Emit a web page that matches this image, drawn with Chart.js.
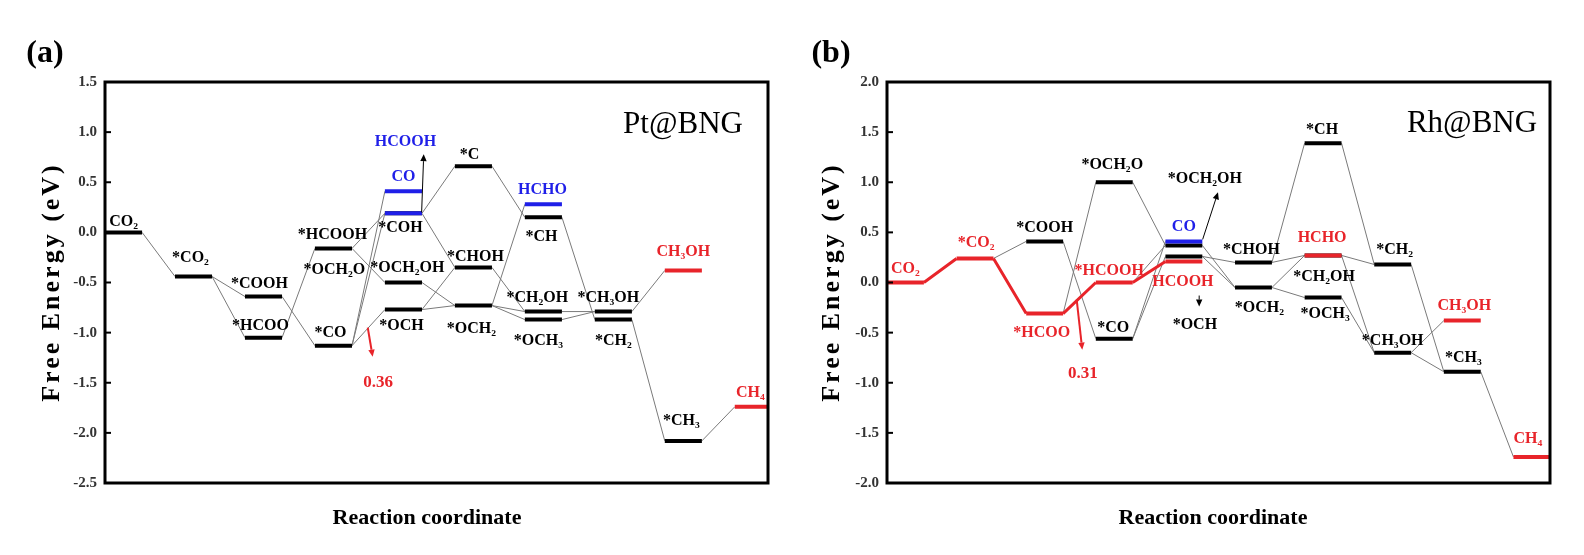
<!DOCTYPE html>
<html><head><meta charset="utf-8">
<script src="https://cdn.jsdelivr.net/npm/chart.js@4.4.1/dist/chart.umd.min.js"></script>
<style>
html,body{margin:0;padding:0;background:#fff;}
#wrap{position:relative;width:1584px;height:555px;overflow:hidden;}
.pane{position:absolute;top:0;width:792px;height:555px;}
</style></head><body>
<div id="wrap">
<div class="pane" style="left:0"><canvas id="ca" width="792" height="555"></canvas></div>
<div class="pane" style="left:792px"><canvas id="cb" width="792" height="555"></canvas></div>
</div>
<script>
// ================= DATA: panel (a) Pt@BNG =================
const stepA   = [0, 1, 2, 2, 3, 3, 3, 4, 4, 4, 4, 4, 5, 5, 5, 6, 6, 6, 6, 7, 7, 8, 8, 9];
const energyA = [0.00,-0.44,-0.64,-1.05,-0.16,-0.16,-1.13,0.41,0.19,0.19,-0.50,-0.77,0.66,-0.35,-0.73,0.28,0.15,-0.79,-0.87,-0.79,-0.87,-0.38,-2.08,-1.74];
const kindA   = ['k','k','k','k','k','k','k','b','b','k','k','k','k','k','k','b','k','k','k','k','k','r','k','r'];
const labelA  = ['CO₂','*CO₂','*COOH','*HCOO','*HCOOH','*OCH₂O','*CO','CO','HCOOH','*COH','*OCH₂OH','*OCH','*C','*CHOH','*OCH₂','HCHO','*CH','*CH₂OH','*OCH₃','*CH₃OH','*CH₂','CH₃OH','*CH₃','CH₄'];
const linksA  = [[0,1],[1,2],[1,3],[2,6],[3,4],[4,8],[5,10],[6,7],[6,9],[6,11],[9,12],[9,13],[10,14],[11,13],[11,14],[12,16],[13,17],[14,15],[14,18],[14,17],[16,20],[17,19],[18,19],[19,21],[20,22],[22,23]];
const redLinksA = [];
const yTicksA = ['-2.5','-2.0','-1.5','-1.0','-0.5','0.0','0.5','1.0','1.5'];
const barrierA = ['0.36'];

// ================= DATA: panel (b) Rh@BNG =================
const stepB   = [0, 1, 2, 2, 3, 3, 3, 4, 4, 4, 4, 5, 5, 6, 6, 6, 6, 7, 7, 8, 8, 9];
const energyB = [0.00,0.24,0.41,-0.31,1.00,0.00,-0.56,0.41,0.37,0.26,0.21,0.20,-0.05,1.39,0.27,0.27,-0.15,0.18,-0.70,-0.38,-0.89,-1.74];
const kindB   = ['r','r','k','r','k','r','k','b','k','k','r','k','k','k','r','k','k','k','k','r','k','r'];
const labelB  = ['CO₂','*CO₂','*COOH','*HCOO','*OCH₂O','*HCOOH','*CO','CO','*OCH₂OH','*OCH','HCOOH','*CHOH','*OCH₂','*CH','HCHO','*CH₂OH','*OCH₃','*CH₂','*CH₃OH','CH₃OH','*CH₃','CH₄'];
const linksB  = [[1,2],[2,6],[3,4],[4,8],[5,8],[6,7],[6,9],[8,12],[9,11],[9,12],[11,13],[11,15],[12,14],[12,16],[13,17],[15,17],[15,18],[16,18],[17,20],[18,19],[18,20],[20,21]];
const redLinksB = [[0,1],[1,3],[3,5],[5,10]];
const yTicksB = ['-2.0','-1.5','-1.0','-0.5','0.0','0.5','1.0','1.5','2.0'];
const barrierB = ['0.31'];

// ================= LAYOUT (positions / styles) =================
const HW = 0.265;   // half width of an energy level, in step units
const SERIF = '"Liberation Serif","Times New Roman",serif';
const COLORS = {k:'#000000', b:'#1f1fe8', r:'#e8242a'};
// label offsets in px relative to level centre
const labelOffA = [[0,-6],[-3,-14],[-4,-9],[-3,-8],[-1,-9],[1,26],[-3,-9],[0,-10],[2,-67],[-3,19],[4,-11],[-2,20],[-4,-7],[2,-6],[-2,27],[-1,-10],[-2,24],[-6,-10],[-5,25],[-5,-10],[0,25],[0,-14],[-2,-16],[-3,-10]];
const labelOffB = [[0,-10],[1,-11],[0,-9],[-3,23],[-2,-13],[-5,-8],[-1,-7],[0,-10],[21,-62],[11,73],[-1,25],[-2,-8],[6,24],[-1,-9],[-1,-13],[1,26],[2,20],[2,-10],[0,-8],[2,-11],[1,-10],[-4,-14]];
// annotation arrows in data space
const arrowsA = [{from:[4.26,0.20],to:[4.29,0.78],kind:'k',w:1},{from:[3.49,-0.95],to:[3.56,-1.24],kind:'r',w:2}];
const notePosA = [[3.64,-1.54]];
const arrowsB = [{from:[4.27,0.43],to:[4.49,0.90],kind:'k',w:1},{from:[4.22,-0.13],to:[4.22,-0.24],kind:'k',w:1},{from:[2.46,-0.17],to:[2.54,-0.67],kind:'r',w:2}];
const notePosB = [[2.55,-0.95]];

function levelData(steps, energies, kinds, kind){
  const pts = [];
  steps.forEach((s,i)=>{
    if (kinds[i] !== kind) return;
    pts.push({x:s-HW,y:energies[i]},{x:s+HW,y:energies[i]},{x:s+HW,y:null});
  });
  return pts;
}
function linkData(steps, energies, links){
  const pts = [];
  links.forEach(([i,j])=>{
    pts.push({x:steps[i]+HW,y:energies[i]},{x:steps[j]-HW,y:energies[j]},{x:steps[j]-HW,y:null});
  });
  return pts;
}

function drawArrow(ctx, x1,y1,x2,y2,color,w){
  ctx.save();
  ctx.strokeStyle=color; ctx.fillStyle=color; ctx.lineWidth=w;
  const ang=Math.atan2(y2-y1,x2-x1), hl=7, hw=3.2;
  const bx=x2-hl*Math.cos(ang), by=y2-hl*Math.sin(ang);
  ctx.beginPath(); ctx.moveTo(x1,y1); ctx.lineTo(bx,by); ctx.stroke();
  ctx.beginPath(); ctx.moveTo(x2,y2);
  ctx.lineTo(bx+hw*Math.sin(ang), by-hw*Math.cos(ang));
  ctx.lineTo(bx-hw*Math.sin(ang), by+hw*Math.cos(ang));
  ctx.closePath(); ctx.fill();
  ctx.restore();
}

const decor = {
  id:'decor',
  afterDraw(chart){
    const o = chart.options.plugins.decor;
    const ctx = chart.ctx, ca = chart.chartArea;
    const xs = chart.scales.x, ys = chart.scales.y;
    ctx.save();
    // frame
    ctx.strokeStyle='#000'; ctx.lineWidth=3;
    ctx.strokeRect(ca.left, ca.top, ca.right-ca.left, ca.bottom-ca.top);
    // inner tick marks
    ctx.lineWidth=2;
    ys.ticks.forEach(t=>{
      const y = ys.getPixelForValue(t.value);
      ctx.beginPath(); ctx.moveTo(ca.left, y); ctx.lineTo(ca.left+6, y); ctx.stroke();
    });
    // level labels
    ctx.font = 'bold 16px ' + SERIF;
    ctx.textAlign='center'; ctx.textBaseline='alphabetic';
    o.labels.forEach((lab,i)=>{
      const px = xs.getPixelForValue(o.steps[i]) + o.offs[i][0];
      const py = ys.getPixelForValue(o.energies[i]) + o.offs[i][1];
      ctx.fillStyle = COLORS[o.kinds[i]];
      ctx.fillText(lab, px, py);
    });
    // arrows
    o.arrows.forEach(a=>{
      drawArrow(ctx, xs.getPixelForValue(a.from[0]), ys.getPixelForValue(a.from[1]),
                     xs.getPixelForValue(a.to[0]), ys.getPixelForValue(a.to[1]), COLORS[a.kind], a.w);
    });
    // barrier notes
    ctx.font = 'bold 17px ' + SERIF; ctx.fillStyle = COLORS.r;
    o.notes.forEach((n,i)=>{
      ctx.fillText(n, xs.getPixelForValue(o.notePos[i][0]), ys.getPixelForValue(o.notePos[i][1]));
    });
    // panel name
    ctx.fillStyle='#000'; ctx.font = '31px ' + SERIF;
    ctx.fillText(o.name, o.nameX, o.nameY);
    // panel letter
    ctx.font = 'bold 32px ' + SERIF;
    ctx.fillText(o.letter, o.letterX, 62);
    // x title
    ctx.font = 'bold 22px ' + SERIF;
    ctx.fillText('Reaction coordinate', o.xTitleX, 524);
    // y title
    ctx.translate(o.yTitleX, 282); ctx.rotate(-Math.PI/2);
    ctx.font = 'bold 26px ' + SERIF; ctx.textBaseline='middle';
    try { ctx.letterSpacing = '3px'; } catch(e) {}
    ctx.fillText('Free Energy (eV)', 0, 0);
    ctx.restore();
  }
};

function makeChart(id, d){
  const datasets = [
    {data: levelData(d.steps,d.energies,d.kinds,'b'), borderColor:COLORS.b, borderWidth:4, order:0},
    {data: levelData(d.steps,d.energies,d.kinds,'r'), borderColor:COLORS.r, borderWidth:4, order:0},
    {data: levelData(d.steps,d.energies,d.kinds,'k'), borderColor:COLORS.k, borderWidth:4, order:1},
    {data: linkData(d.steps,d.energies,d.redLinks), borderColor:COLORS.r, borderWidth:3, order:2},
    {data: linkData(d.steps,d.energies,d.links), borderColor:'#7a7a7a', borderWidth:1, order:3}
  ].map(ds=>Object.assign({type:'line', pointRadius:0, pointHoverRadius:0, spanGaps:false, tension:0, fill:false, borderCapStyle:'butt'}, ds));
  const yVals = d.yTicks.map(Number);
  return new Chart(document.getElementById(id), {
    type:'line',
    data:{datasets},
    options:{
      responsive:false, animation:false, devicePixelRatio:1,
      layout:{padding:d.padding},
      events:[],
      plugins:{legend:{display:false}, tooltip:{enabled:false},
        decor:{steps:d.steps, energies:d.energies, kinds:d.kinds, labels:d.labels, offs:d.offs,
               arrows:d.arrows, notes:d.notes, notePos:d.notePos, name:d.name, nameX:d.nameX, nameY:d.nameY,
               letter:d.letter, letterX:d.letterX, xTitleX:d.xTitleX, yTitleX:d.yTitleX}},
      scales:{
        x:{type:'linear', display:false, min:-HW, max:d.xMax},
        y:{type:'linear', min:Math.min(...yVals), max:Math.max(...yVals),
           afterFit(s){ s.width = 69; },
           grid:{display:false, drawTicks:false}, border:{display:false},
           ticks:{stepSize:0.5, padding:8, color:'#333', font:{family:SERIF, size:15, weight:'bold'},
                  callback:(v)=>{ const s=(Math.round(v*10)/10).toFixed(1); return d.yTicks.includes(s)?s:''; }}}
      }
    },
    plugins:[decor]
  });
}

makeChart('ca', {steps:stepA, energies:energyA, kinds:kindA, labels:labelA, offs:labelOffA,
  links:linksA, redLinks:redLinksA, yTicks:yTicksA, arrows:arrowsA, notes:barrierA, notePos:notePosA,
  padding:{left:36, right:24, top:82, bottom:72}, xMax:9.21,
  name:'Pt@BNG', nameX:683, nameY:133, letter:'(a)', letterX:45, xTitleX:427, yTitleX:52});
makeChart('cb', {steps:stepB, energies:energyB, kinds:kindB, labels:labelB, offs:labelOffB,
  links:linksB, redLinks:redLinksB, yTicks:yTicksB, arrows:arrowsB, notes:barrierB, notePos:notePosB,
  padding:{left:26, right:34, top:82, bottom:72}, xMax:9.26,
  name:'Rh@BNG', nameX:680, nameY:132, letter:'(b)', letterX:39, xTitleX:421, yTitleX:40});
</script>
</body></html>
